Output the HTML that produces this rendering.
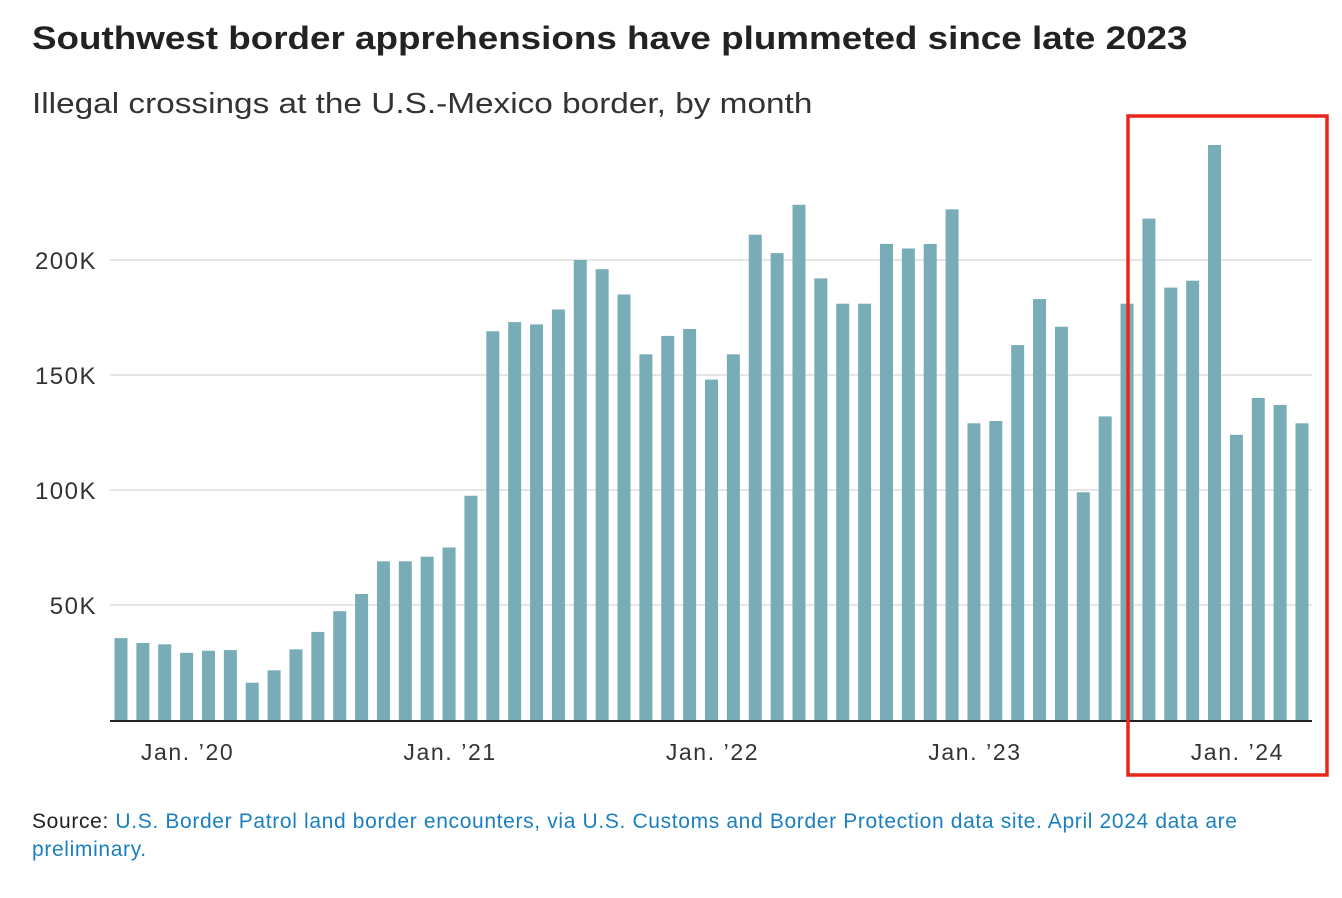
<!DOCTYPE html>
<html><head><meta charset="utf-8"><style>
body{margin:0;background:#fff;width:1342px;height:898px;overflow:hidden;font-family:"Liberation Sans",sans-serif;}
h1{position:absolute;left:32px;top:20px;margin:0;font-size:32px;font-weight:bold;color:#222;transform:scaleX(1.15);transform-origin:left top;white-space:nowrap}
.sub{position:absolute;left:32px;top:88px;font-size:29px;color:#333;transform:scaleX(1.15);transform-origin:left top;white-space:nowrap}
.src{position:absolute;left:32px;top:808px;font-size:21px;line-height:28px;color:#222;width:1225px;letter-spacing:0.65px}
.src span{color:#1a7fc1}
</style></head><body>
<h1>Southwest border apprehensions have plummeted since late 2023</h1>
<div class="sub">Illegal crossings at the U.S.-Mexico border, by month</div>
<svg id="chart" width="1342" height="898" style="position:absolute;left:0;top:0"></svg>
<div class="src">Source: <span>U.S. Border Patrol land border encounters, via U.S. Customs and Border Protection data site. April 2024 data are preliminary.</span></div>
<script>
const values=[35.6,33.5,32.9,29.2,30.1,30.4,16.2,21.6,30.7,38.3,47.3,54.8,69,69,71,75,97.5,169,173,172,178.5,200,196,185,159,167,170,148,159,211,203,224,192,181,181,207,205,207,222,129,130,163,183,171,99,132,181,218,188,191,250,124,140,137,129];
const tickVals=[50,100,150,200];
const tickLabels=["50K","100K","150K","200K"];
const xTickIdx=[3,15,27,39,51];
const xTickLabels=["Jan. \u201920","Jan. \u201921","Jan. \u201922","Jan. \u201923","Jan. \u201924"];
const svg=document.getElementById('chart');const NS='http://www.w3.org/2000/svg';
const y0=720,pxPerK=2.3,x0=121,step=(1302-121)/54,bw=13;
const y=v=>y0-v*pxPerK;const x=i=>x0+i*step;
function mk(t,a){const e=document.createElementNS(NS,t);for(const k in a)e.setAttribute(k,a[k]);svg.appendChild(e);return e;}
tickVals.forEach((v,i)=>{
 const g=mk('line',{x1:110,x2:1312,y1:y(v),y2:y(v),stroke:'#ddd','stroke-width':1.5});
 
 
 const t=mk('text',{x:97,y:y(v)+9,'text-anchor':'end','font-size':24,'letter-spacing':1.5,fill:'#333'});t.textContent=tickLabels[i];
 
 
});
values.forEach((v,i)=>{
 const r=mk('rect',{x:x(i)-bw/2,y:y(v),width:bw,height:v*pxPerK,fill:'#78adb7'});
 
 
});
const ax=mk('line',{x1:110,x2:1312,y1:y0+1,y2:y0+1,stroke:'#222','stroke-width':2});


xTickIdx.forEach((idx,i)=>{
 const t=mk('text',{x:x(idx)+1,y:760,'text-anchor':'middle','font-size':23,'letter-spacing':1.6,fill:'#333'});t.textContent=xTickLabels[i];
 
 
});
const box=mk('rect',{x:1128,y:116,width:199,height:659,fill:'none',stroke:'#e8261a','stroke-width':3.5});


</script>
</body></html>
